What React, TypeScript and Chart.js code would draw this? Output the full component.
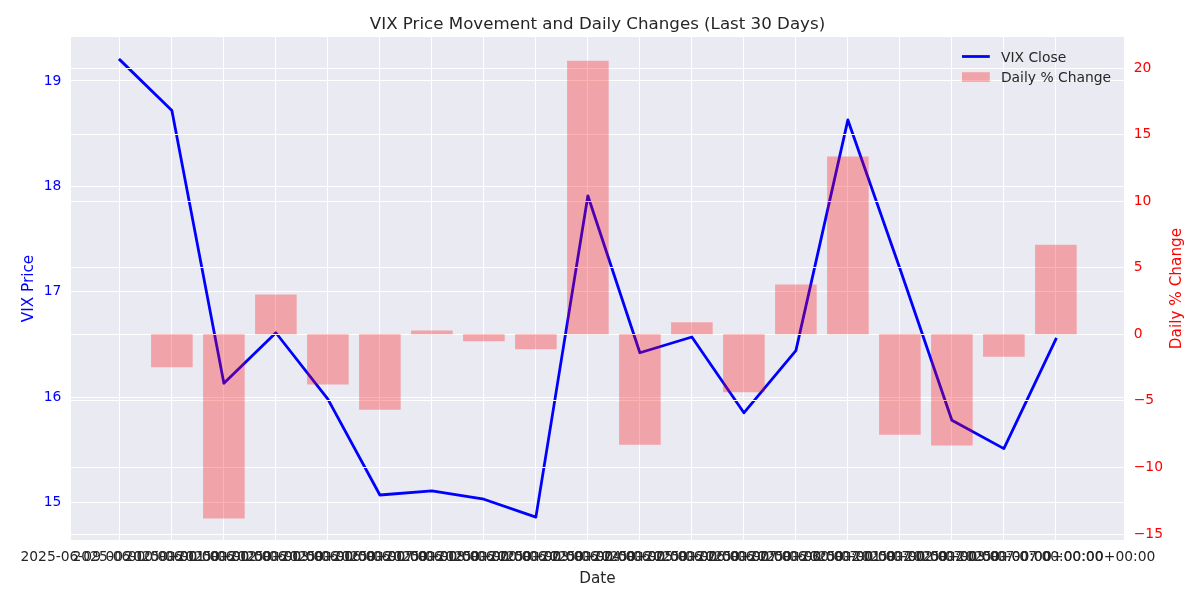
import React, { useEffect, useRef } from "react";
import { Chart, registerables } from "chart.js";

Chart.register(...registerables);

const dates = [
  "2025-06-09 00:00:00+00:00",
  "2025-06-10 00:00:00+00:00",
  "2025-06-11 00:00:00+00:00",
  "2025-06-12 00:00:00+00:00",
  "2025-06-13 00:00:00+00:00",
  "2025-06-16 00:00:00+00:00",
  "2025-06-17 00:00:00+00:00",
  "2025-06-18 00:00:00+00:00",
  "2025-06-20 00:00:00+00:00",
  "2025-06-23 00:00:00+00:00",
  "2025-06-24 00:00:00+00:00",
  "2025-06-25 00:00:00+00:00",
  "2025-06-26 00:00:00+00:00",
  "2025-06-27 00:00:00+00:00",
  "2025-06-30 00:00:00+00:00",
  "2025-07-01 00:00:00+00:00",
  "2025-07-02 00:00:00+00:00",
  "2025-07-03 00:00:00+00:00",
  "2025-07-07 00:00:00+00:00",
];

const vixClose = [
  19.2, 18.72, 16.13, 16.61, 15.98, 15.07, 15.11, 15.03, 14.86, 17.91,
  16.42, 16.57, 15.85, 16.44, 18.63, 17.22, 15.78, 15.51, 16.55,
];

const dailyChange: (number | null)[] = [
  null, -2.47, -13.83, 2.99, -3.77, -5.67, 0.28, -0.53, -1.13, 20.55,
  -8.3, 0.91, -4.35, 3.74, 13.35, -7.55, -8.36, -1.69, 6.73,
];

const leftTicks = [15, 16, 17, 18, 19];
const rightTicks = [-15, -10, -5, 0, 5, 10, 15, 20];

const TITLE = "VIX Price Movement and Daily Changes (Last 30 Days)";
const FONT = "DejaVu Sans";
const TEXT = "#262626";
const PLOT_BG = "#eaeaf2";
const BAR_COLOR = "rgba(255,0,0,0.3)";
const LINE_COLOR = "#0000ff";
const LINE_WIDTH = 2.78;

function align(px: number, w: number) {
  const half = w / 2;
  return Math.round(px - half) + half;
}

const mplPlugin = {
  id: "mplLook",
  beforeDraw(chart: any) {
    const { ctx, chartArea: a } = chart;
    ctx.save();
    ctx.fillStyle = PLOT_BG;
    ctx.fillRect(a.left, a.top, a.right - a.left, a.bottom - a.top);
    ctx.restore();
  },
  beforeDatasetDraw(chart: any, args: any) {
    if (args.index !== 1) return;
    const { ctx, chartArea: a } = chart;
    const s = chart.scales.y2;
    ctx.save();
    ctx.strokeStyle = "#ffffff";
    ctx.lineWidth = 1;
    for (const v of rightTicks) {
      const y = align(s.getPixelForValue(v), 1);
      ctx.beginPath();
      ctx.moveTo(a.left, y);
      ctx.lineTo(a.right, y);
      ctx.stroke();
    }
    ctx.restore();
  },
  afterDraw(chart: any) {
    const { ctx, chartArea: a } = chart;
    ctx.save();
    // title
    ctx.fillStyle = TEXT;
    ctx.font = `16.67px "${FONT}"`;
    ctx.textAlign = "center";
    ctx.textBaseline = "alphabetic";
    ctx.fillText(TITLE, (a.left + a.right) / 2, 28.7);

    // right axis label
    ctx.save();
    ctx.translate(1177.5, (a.top + a.bottom) / 2);
    ctx.rotate(-Math.PI / 2);
    ctx.fillStyle = "#ff0000";
    ctx.font = `15.28px "${FONT}"`;
    ctx.textAlign = "center";
    ctx.textBaseline = "middle";
    ctx.fillText("Daily % Change", 0, 0);
    ctx.restore();

    // legend
    const hx0 = a.right - 162;
    const hlen = 27.8;
    const tx = hx0 + hlen + 11.1;
    ctx.strokeStyle = LINE_COLOR;
    ctx.lineWidth = LINE_WIDTH;
    ctx.beginPath();
    ctx.moveTo(hx0, 56.5);
    ctx.lineTo(hx0 + hlen, 56.5);
    ctx.stroke();
    ctx.fillStyle = BAR_COLOR;
    ctx.fillRect(hx0, 72.2, hlen, 9.7);
    ctx.fillStyle = TEXT;
    ctx.font = `13.89px "${FONT}"`;
    ctx.textAlign = "left";
    ctx.textBaseline = "alphabetic";
    ctx.fillText("VIX Close", tx, 61.6);
    ctx.fillText("Daily % Change", tx, 82.1);
    ctx.restore();
  },
};

export default function App() {
  const ref = useRef<HTMLCanvasElement | null>(null);

  useEffect(() => {
    if (!ref.current) return;
    const lineData = vixClose.map((v, i) => ({ x: i, y: v }));
    const barData = dailyChange.map((v, i) => ({ x: i, y: v }));
    const chart = new Chart(ref.current, {
      type: "bar",
      data: {
        datasets: [
          {
            type: "line",
            label: "VIX Close",
            data: lineData,
            borderColor: LINE_COLOR,
            backgroundColor: LINE_COLOR,
            borderWidth: LINE_WIDTH,
            pointRadius: 0,
            tension: 0,
            fill: false,
            borderCapStyle: "square",
            borderJoinStyle: "round",
            yAxisID: "y",
            xAxisID: "x",
            order: 1,
          } as any,
          {
            type: "bar",
            label: "Daily % Change",
            data: barData,
            backgroundColor: BAR_COLOR,
            borderWidth: 0,
            barPercentage: 1,
            categoryPercentage: 0.8,
            yAxisID: "y2",
            xAxisID: "x",
            order: 0,
          } as any,
        ],
      },
      options: {
        responsive: false,
        animation: false,
        devicePixelRatio: 1,
        layout: { padding: { top: 37, left: 0, right: 0, bottom: 0 } },
        plugins: {
          legend: { display: false },
          title: { display: false },
          tooltip: { enabled: false },
        },
        font: { family: FONT },
        scales: {
          x: {
            type: "linear",
            min: -0.94,
            max: 19.31,
            offset: false,
            bounds: "data",
            afterBuildTicks: (scale: any) => {
              scale.ticks = dates.map((_, i) => ({ value: i }));
            },
            afterFit: (scale: any) => {
              scale.height = 60;
            },
            ticks: {
              callback: (v: any) => dates[v as number],
              autoSkip: false,
              maxRotation: 0,
              minRotation: 0,
              padding: 9.5,
              color: TEXT,
              font: { family: FONT, size: 13.89 },
            },
            grid: { color: "#ffffff", lineWidth: 1, drawTicks: false, offset: false },
            border: { display: false },
            title: {
              display: true,
              text: "Date",
              color: TEXT,
              font: { family: FONT, size: 15.28 },
              padding: { top: 0, bottom: 11.5 },
            },
          },
          y: {
            type: "linear",
            position: "left",
            min: 14.643,
            max: 19.417,
            bounds: "data",
            afterBuildTicks: (scale: any) => {
              scale.ticks = leftTicks.map((v) => ({ value: v }));
            },
            afterFit: (scale: any) => {
              scale.width = 71;
            },
            ticks: {
              callback: (v: any) => String(v),
              padding: 9.7,
              color: "#0000ff",
              font: { family: FONT, size: 13.89 },
            },
            grid: { color: "#ffffff", lineWidth: 1, drawTicks: false },
            border: { display: false },
            title: {
              display: true,
              text: "VIX Price",
              color: "#0000ff",
              font: { family: FONT, size: 15.28 },
              padding: { top: 20, bottom: 0 },
            },
          },
          y2: {
            type: "linear",
            position: "right",
            min: -15.45,
            max: 22.33,
            bounds: "data",
            afterBuildTicks: (scale: any) => {
              scale.ticks = rightTicks.map((v) => ({ value: v }));
            },
            afterFit: (scale: any) => {
              scale.width = 76;
            },
            ticks: {
              callback: (v: any) => String(v).replace("-", "\u2212"),
              padding: 9.7,
              color: "#ff0000",
              font: { family: FONT, size: 13.89 },
            },
            grid: { display: false, drawTicks: false },
            border: { display: false },
          },
        },
      } as any,
      plugins: [mplPlugin],
    });
    return () => chart.destroy();
  }, []);

  return (
    <canvas
      ref={ref}
      width={1200}
      height={600}
      style={{ position: "absolute", left: 0, top: 0, display: "block" }}
    />
  );
}
